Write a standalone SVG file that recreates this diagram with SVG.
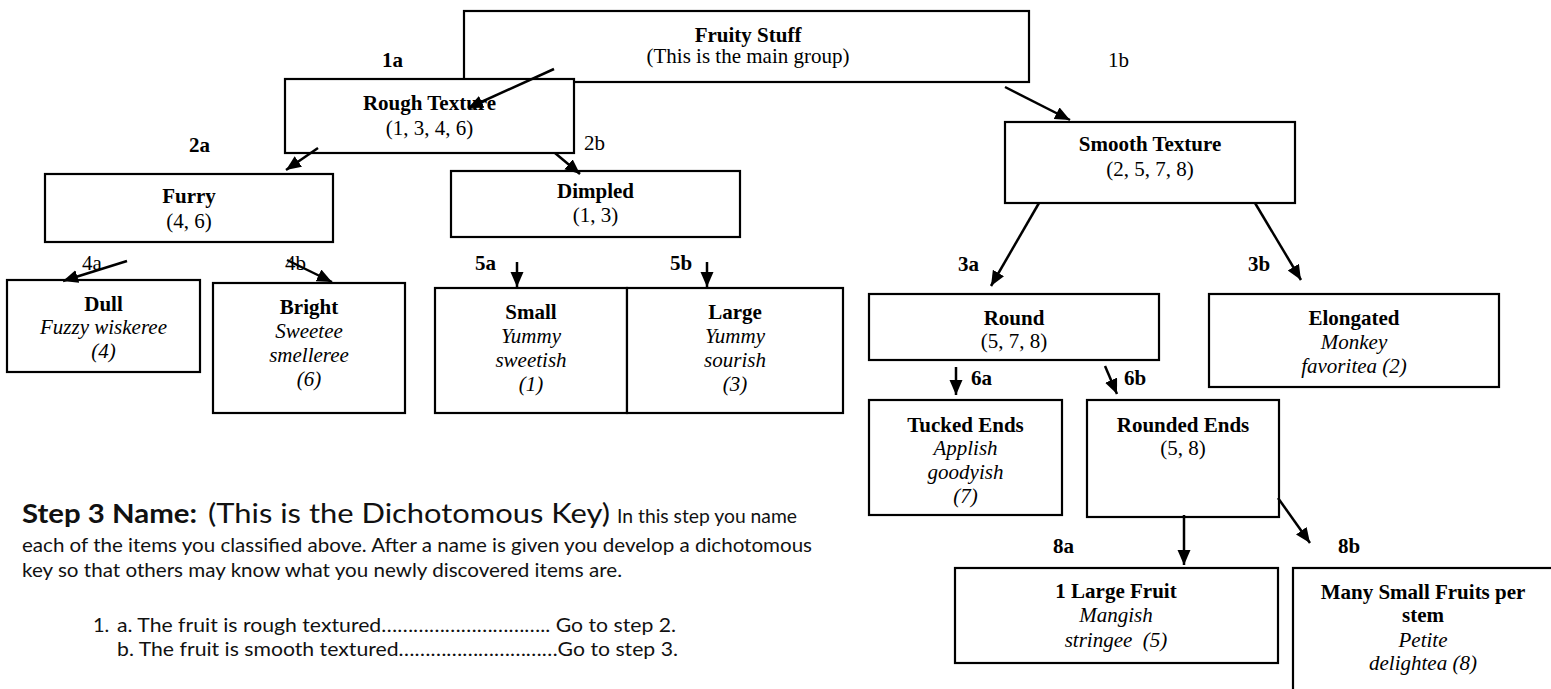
<svg xmlns="http://www.w3.org/2000/svg" width="1551" height="689" viewBox="0 0 1551 689">
<style>
.box{fill:#fff;stroke:#000;stroke-width:2.2}
.t{font-family:"Liberation Serif","Times New Roman",serif;font-size:21px;fill:#000;text-anchor:middle}
.b{font-weight:bold}
.i{font-style:italic}
.lbl{font-family:"Liberation Serif","Times New Roman",serif;font-size:21px;fill:#000}
.c{font-family:Lato,"Open Sans",sans-serif;fill:#111}
.arr{stroke:#000;stroke-width:2.5;fill:none;marker-end:url(#ah)}
</style>
<defs>
<marker id="ah" markerUnits="userSpaceOnUse" markerWidth="17" markerHeight="15" refX="15" refY="6.5" orient="auto">
<path d="M0,0 L15,6.5 L0,13 z" fill="#000"/>
</marker>
</defs>
<rect width="1551" height="689" fill="#fff"/>

<g id="fruity">
<rect class="box" x="464" y="11" width="565" height="71"/>
<text class="t b" x="748" y="42">Fruity Stuff</text>
<text class="t" x="748" y="63">(This is the main group)</text>
</g>
<g id="rough">
<rect class="box" x="285" y="79" width="289" height="74"/>
<text class="t b" x="429.5" y="110">Rough Texture</text>
<text class="t" x="429.5" y="135">(1, 3, 4, 6)</text>
</g>
<g id="smooth">
<rect class="box" x="1005" y="122" width="290" height="81"/>
<text class="t b" x="1150" y="151">Smooth Texture</text>
<text class="t" x="1150" y="176">(2, 5, 7, 8)</text>
</g>
<g id="furry">
<rect class="box" x="45" y="174" width="288" height="68"/>
<text class="t b" x="189" y="203">Furry</text>
<text class="t" x="189" y="228">(4, 6)</text>
</g>
<g id="dimpled">
<rect class="box" x="451" y="171" width="289" height="66"/>
<text class="t b" x="595.5" y="198">Dimpled</text>
<text class="t" x="595.5" y="222">(1, 3)</text>
</g>
<g id="dull">
<rect class="box" x="7" y="280" width="193" height="92"/>
<text class="t b" x="103.5" y="311">Dull</text>
<text class="t i" x="103.5" y="334">Fuzzy wiskeree</text>
<text class="t i" x="103.5" y="358">(4)</text>
</g>
<g id="bright">
<rect class="box" x="213" y="283" width="192" height="130"/>
<text class="t b" x="309" y="314">Bright</text>
<text class="t i" x="309" y="338">Sweetee</text>
<text class="t i" x="309" y="362">smelleree</text>
<text class="t i" x="309" y="386">(6)</text>
</g>
<g id="small">
<rect class="box" x="435" y="288" width="192" height="125"/>
<text class="t b" x="531" y="319">Small</text>
<text class="t i" x="531" y="343">Yummy</text>
<text class="t i" x="531" y="367">sweetish</text>
<text class="t i" x="531" y="391">(1)</text>
</g>
<g id="large">
<rect class="box" x="627" y="288" width="216" height="125"/>
<text class="t b" x="735" y="319">Large</text>
<text class="t i" x="735" y="343">Yummy</text>
<text class="t i" x="735" y="367">sourish</text>
<text class="t i" x="735" y="391">(3)</text>
</g>
<g id="round">
<rect class="box" x="869" y="294" width="290" height="66"/>
<text class="t b" x="1014" y="325">Round</text>
<text class="t" x="1014" y="348">(5, 7, 8)</text>
</g>
<g id="elongated">
<rect class="box" x="1209" y="294" width="290" height="93"/>
<text class="t b" x="1354" y="325">Elongated</text>
<text class="t i" x="1354" y="349">Monkey</text>
<text class="t i" x="1354" y="373">favoritea (2)</text>
</g>
<g id="tucked">
<rect class="box" x="869" y="400" width="193" height="115"/>
<text class="t b" x="965.5" y="432">Tucked Ends</text>
<text class="t i" x="965.5" y="455">Applish</text>
<text class="t i" x="965.5" y="479">goodyish</text>
<text class="t i" x="965.5" y="503">(7)</text>
</g>
<g id="rounded">
<rect class="box" x="1087" y="400" width="192" height="117"/>
<text class="t b" x="1183" y="432">Rounded Ends</text>
<text class="t" x="1183" y="455">(5, 8)</text>
</g>
<g id="onelarge">
<rect class="box" x="955" y="568" width="323" height="95"/>
<text class="t b" x="1116" y="598">1 Large Fruit</text>
<text class="t i" x="1116" y="622">Mangish</text>
<text class="t i" x="1116" y="647" xml:space="preserve">stringee  (5)</text>
</g>
<g id="manysmall">
<rect class="box" x="1293" y="568" width="290" height="150"/>
<text class="t b" x="1423" y="599">Many Small Fruits per</text>
<text class="t b" x="1423" y="622">stem</text>
<text class="t i" x="1423" y="647">Petite</text>
<text class="t i" x="1423" y="670">delightea (8)</text>
</g>

<g id="labels">
<text class="lbl b" x="382" y="67">1a</text>
<text class="lbl" x="1108" y="67">1b</text>
<text class="lbl b" x="189" y="152">2a</text>
<text class="lbl" x="584" y="150">2b</text>
<text class="lbl b" x="958" y="271">3a</text>
<text class="lbl b" x="1248" y="271">3b</text>
<text class="lbl" x="82" y="270">4a</text>
<text class="lbl" x="285" y="270">4b</text>
<text class="lbl b" x="475" y="270">5a</text>
<text class="lbl b" x="670" y="270">5b</text>
<text class="lbl b" x="971" y="385">6a</text>
<text class="lbl b" x="1124" y="385">6b</text>
<text class="lbl b" x="1053" y="553">8a</text>
<text class="lbl b" x="1338" y="553">8b</text>
</g>

<g id="connectors">
<line class="arr" x1="554" y1="69" x2="468" y2="108"/>
<line class="arr" x1="1005" y1="87" x2="1070" y2="120"/>
<line class="arr" x1="318" y1="148" x2="286" y2="170"/>
<line class="arr" x1="555" y1="153" x2="580" y2="174"/>
<line class="arr" x1="1039" y1="203" x2="991" y2="286"/>
<line class="arr" x1="1255" y1="203" x2="1301" y2="280"/>
<line class="arr" x1="127" y1="261" x2="63" y2="281"/>
<line class="arr" x1="287" y1="260" x2="332" y2="282"/>
<line class="arr" x1="517" y1="262" x2="517" y2="287"/>
<line class="arr" x1="707" y1="262" x2="707" y2="287"/>
<line class="arr" x1="956" y1="367" x2="956" y2="395"/>
<line class="arr" x1="1105" y1="366" x2="1117" y2="394"/>
<line class="arr" x1="1184" y1="515" x2="1184" y2="565"/>
<line class="arr" x1="1278" y1="498" x2="1310" y2="543"/>
</g>

<g id="key-text">
<text class="c" x="22" y="523"><tspan font-weight="bold" font-size="27" textLength="175" lengthAdjust="spacingAndGlyphs">Step 3 Name:</tspan><tspan x="208" font-size="27" textLength="402" lengthAdjust="spacingAndGlyphs">(This is the Dichotomous Key)</tspan><tspan x="617" font-size="20" textLength="180" lengthAdjust="spacingAndGlyphs">In this step you name</tspan></text>
<text class="c" x="22" y="552" font-size="20" textLength="790" lengthAdjust="spacingAndGlyphs">each of the items you classified above. After a name is given you develop a dichotomous</text>
<text class="c" x="22" y="577" font-size="20" textLength="600" lengthAdjust="spacingAndGlyphs">key so that others may know what you newly discovered items are.</text>
<text class="c" x="93" y="632" font-size="20">1.</text>
<text class="c" x="117" y="632" font-size="20" textLength="559" lengthAdjust="spacingAndGlyphs">a. The fruit is rough textured………………………….. Go to step 2.</text>
<text class="c" x="117" y="656" font-size="20" textLength="561" lengthAdjust="spacingAndGlyphs">b. The fruit is smooth textured…………………………Go to step 3.</text>
</g>
</svg>
